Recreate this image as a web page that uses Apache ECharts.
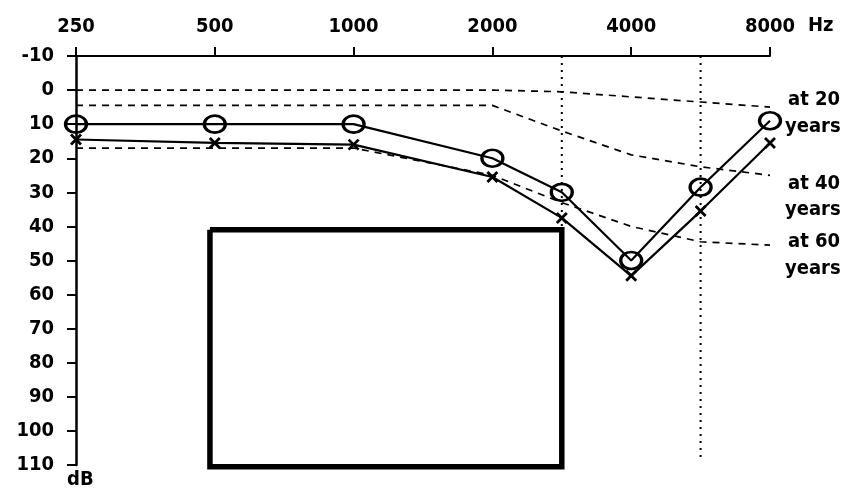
<!DOCTYPE html>
<html>
<head>
<meta charset="utf-8">
<script src="https://cdn.jsdelivr.net/npm/echarts@6/dist/echarts.min.js"></script>
<style>html,body{margin:0;padding:0;background:#fff}#c{width:845px;height:497px}</style>
</head>
<body>
<div id="c"></div>
<script>
// Audiogram positions (octave index; 3000 & 6000 at half-octave, audiogram convention)
const freqLabels = ['250', '500', '1000', '2000', '4000', '8000'];
const freqPos = [0, 1, 2, 3, 3.5, 4, 4.5, 5]; // 250,500,1000,2000,3000,4000,6000,8000 Hz
const earO = [10, 10, 10, 20, 30, 50, 28.5, 9];
const earX = [14.5, 15.5, 16, 25.5, 37.5, 54.5, 35.5, 15.5];
const age20 = [0, 0, 0, 0, 0.5, 2, 3.5, 5];
const age40 = [4.5, 4.5, 4.5, 4.5, 12, 19, 22.5, 25];
const age60 = [17, 17, 17, 25, 33, 40, 44.5, 45.5];
const dbTicks = [-10, 0, 10, 20, 30, 40, 50, 60, 70, 80, 90, 100, 110];
const boxX = [0.965, 3.5];
const boxY = [41, 110.5];
const dotted3000 = [[3.5, -10], [3.5, 41]];
const dotted6000 = [[4.5, -10], [4.5, 109]];

const pair = (ys) => freqPos.map((x, i) => [x, ys[i]]);
const FONT = 'DejaVu Sans Condensed';
const TXT = 'bold 20px "DejaVu Sans Condensed"';

const chart = echarts.init(document.getElementById('c'), null, {renderer: 'canvas'});
const dashed = (name, ys) => ({
  name, type: 'line', data: pair(ys), symbol: 'none', silent: true,
  lineStyle: {color: '#000', width: 1.7, type: [7, 6]}, z: 2
});
chart.setOption({
  animation: false,
  backgroundColor: '#fff',
  grid: {left: 76, right: 75, top: 56, bottom: 32},
  xAxis: {
    type: 'value', position: 'top', min: 0, max: 5, interval: 1,
    axisLine: {show: true, onZero: false, lineStyle: {color: '#000', width: 2}},
    axisTick: {show: true, length: 9, lineStyle: {color: '#000', width: 2}},
    splitLine: {show: false},
    axisLabel: {
      margin: 19, color: '#000', fontFamily: FONT, fontWeight: 'bold', fontSize: 20,
      formatter: (v) => freqLabels[Math.round(v)] || ''
    }
  },
  yAxis: {
    type: 'value', inverse: true, min: -10, max: 110, interval: 10,
    axisLine: {show: true, onZero: false, lineStyle: {color: '#000', width: 2.5}},
    axisTick: {show: true, length: 9, lineStyle: {color: '#000', width: 2}},
    splitLine: {show: false},
    axisLabel: {
      margin: 22, color: '#000', fontFamily: FONT, fontWeight: 'bold', fontSize: 20,
      formatter: (v) => dbTicks.indexOf(v) >= 0 ? String(v) : ''
    }
  },
  series: [
    dashed('at 20 years', age20),
    dashed('at 40 years', age40),
    dashed('at 60 years', age60),
    {
      type: 'line', data: dotted3000, symbol: 'none', silent: true,
      lineStyle: {color: '#000', width: 2, type: [2, 5]}, z: 1
    },
    {
      type: 'line', data: dotted6000, symbol: 'none', silent: true,
      lineStyle: {color: '#000', width: 2, type: [2, 5]}, z: 1
    },
    {
      type: 'line', silent: true, symbol: 'none', clip: false,
      data: [[boxX[0], boxY[0]], [boxX[1], boxY[0]], [boxX[1], boxY[1]], [boxX[0], boxY[1]], [boxX[0], boxY[0]]],
      lineStyle: {color: '#000', width: 5.5, join: 'miter'}, z: 3
    },
    {
      name: 'O', type: 'line', data: pair(earO), clip: false,
      symbol: 'circle', symbolSize: [21, 17],
      itemStyle: {color: 'rgba(0,0,0,0)', borderColor: '#000', borderWidth: 3},
      lineStyle: {color: '#000', width: 2.2}, z: 5
    },
    {
      name: 'X', type: 'line', data: pair(earX), clip: false,
      symbol: 'path://M0,0L10,10M10,0L0,10', symbolSize: 10,
      itemStyle: {color: 'rgba(0,0,0,0)', borderColor: '#000', borderWidth: 2.8},
      lineStyle: {color: '#000', width: 2.2}, z: 5
    }
  ],
  graphic: [
    {type: 'text', left: 808, top: 16, style: {text: 'Hz', font: TXT, fill: '#000'}},
    {type: 'text', left: 67, top: 470, style: {text: 'dB', font: TXT, fill: '#000'}},
    {type: 'text', left: 788, top: 90, style: {text: 'at 20', font: TXT, fill: '#000'}},
    {type: 'text', left: 785, top: 117, style: {text: 'years', font: TXT, fill: '#000'}},
    {type: 'text', left: 788, top: 174, style: {text: 'at 40', font: TXT, fill: '#000'}},
    {type: 'text', left: 785, top: 200, style: {text: 'years', font: TXT, fill: '#000'}},
    {type: 'text', left: 788, top: 232, style: {text: 'at 60', font: TXT, fill: '#000'}},
    {type: 'text', left: 785, top: 259, style: {text: 'years', font: TXT, fill: '#000'}}
  ]
});
</script>
</body>
</html>
